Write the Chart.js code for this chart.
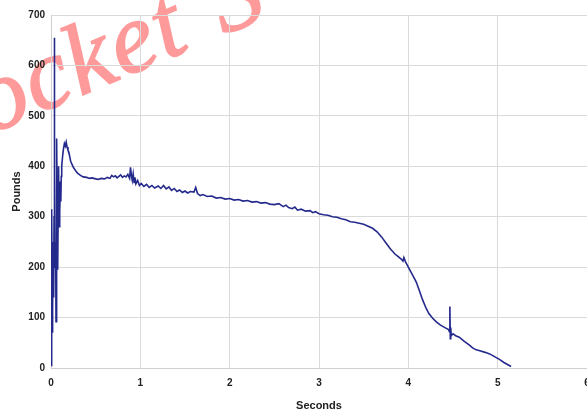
<!DOCTYPE html>
<html>
<head>
<meta charset="utf-8">
<script src="https://cdn.jsdelivr.net/npm/chart.js@4.4.1/dist/chart.umd.min.js"></script>
<style>
  html, body { margin: 0; padding: 0; background: #fff; overflow: hidden; }
  #wrap { position: relative; width: 640px; height: 411px; }
  #wm {
    position: absolute; left: -68px; top: 76px; z-index: 0;
    font: italic 100px "Liberation Serif", serif; line-height: 1;
    color: #ff9a9a; -webkit-text-stroke: 1.6px #ff9a9a;
    white-space: nowrap; word-spacing: 6px; letter-spacing: 2px;
    transform-origin: 0 84px; transform: rotate(-23deg);
    pointer-events: none;
  }
  #grafico { position: relative; z-index: 1; }
</style>
</head>
<body>
<div id="wrap">
  <div id="wm">Rocket S</div>
  <canvas id="grafico" width="640" height="411"></canvas>
</div>
<script>
// Datos (segundos / libras)
const segundos = [
  0, 0.005, 0.01, 0.013, 0.016, 0.02, 0.025, 0.03, 0.034, 0.037, 0.041, 0.046, 0.052, 0.056, 0.06,
  0.066, 0.07, 0.075, 0.08, 0.085, 0.09, 0.095, 0.1, 0.105, 0.11, 0.115, 0.12, 0.13, 0.14, 0.15,
  0.16, 0.17, 0.18, 0.19, 0.2, 0.22, 0.25, 0.28, 0.3, 0.33, 0.36, 0.4, 0.43, 0.46, 0.5, 0.53, 0.56,
  0.6, 0.63, 0.66, 0.68, 0.7, 0.72, 0.74, 0.76, 0.78, 0.8, 0.82, 0.84, 0.86, 0.88, 0.89, 0.9, 0.91,
  0.92, 0.93, 0.94, 0.95, 0.97, 0.99, 1.01, 1.04, 1.07, 1.1, 1.13, 1.16, 1.2, 1.23, 1.26, 1.29, 1.32,
  1.35, 1.38, 1.41, 1.44, 1.47, 1.5, 1.53, 1.56, 1.6, 1.62, 1.64, 1.67, 1.7, 1.75, 1.8, 1.85, 1.9,
  1.95, 2.0, 2.05, 2.1, 2.15, 2.2, 2.25, 2.3, 2.35, 2.4, 2.45, 2.5, 2.55, 2.6, 2.63, 2.66, 2.7, 2.73,
  2.76, 2.8, 2.85, 2.9, 2.93, 2.96, 3.0, 3.05, 3.1, 3.15, 3.2, 3.25, 3.3, 3.35, 3.4, 3.45, 3.5, 3.55,
  3.6, 3.65, 3.7, 3.75, 3.8, 3.85, 3.88, 3.92, 3.94, 3.95, 3.97, 4.0, 4.03, 4.06, 4.09, 4.12, 4.16,
  4.2, 4.23, 4.27, 4.31, 4.36, 4.42, 4.45, 4.46, 4.465, 4.47, 4.475, 4.48, 4.5, 4.53, 4.57, 4.62,
  4.68, 4.72, 4.76, 4.8, 4.86, 4.91, 4.96, 5.02, 5.07, 5.13, 5.15
];
const libras = [
  5, 150, 315, 160, 70, 120, 250, 140, 300, 655, 380, 200, 250, 92, 300,
  455, 320, 195, 300, 400, 280, 370, 310, 360, 330, 380, 400, 420, 435, 445,
  440, 448, 438, 432, 428, 410, 398, 390, 386, 382, 379, 378, 376, 377, 375, 374, 376,
  375, 378, 376, 382, 379, 381, 377, 380, 383, 378, 381, 379, 384, 376, 398, 382, 372,
  385, 368, 378, 365, 372, 362, 366, 360, 364, 358, 362, 357, 361, 356, 362, 355, 359,
  352, 356, 350, 353, 348, 351, 347, 350, 349, 358, 346, 342, 344, 340, 341, 337, 338,
  335, 336, 333, 334, 331, 332, 329, 330, 327, 328, 325, 324, 326, 320, 323, 318, 316, 319,
  313, 315, 311, 312, 308, 310, 306, 304, 303, 300, 299, 296, 294, 290, 289, 287, 285, 281,
  277, 270, 260, 248, 236, 226, 222, 216, 212, 219, 210, 200, 190, 180, 170, 155, 135,
  118, 108, 99, 92, 85, 79, 76, 72, 122, 58, 80, 64, 68, 64, 61, 54,
  46, 40, 36, 34, 31, 28, 23, 17, 11, 5, 3
];
const ticksX = [0, 1, 2, 3, 4, 5, 6];
const ticksY = [0, 100, 200, 300, 400, 500, 600, 700];

const puntos = segundos.map((s, i) => ({ x: s, y: libras[i] }));
const fuenteTick = { family: 'Liberation Sans', size: 10, weight: 'bold' };

new Chart(document.getElementById('grafico').getContext('2d'), {
  type: 'line',
  data: {
    datasets: [{
      data: puntos,
      borderColor: '#24298c',
      borderWidth: 1.6,
      pointRadius: 0,
      tension: 0,
      fill: false
    }]
  },
  options: {
    responsive: false,
    animation: false,
    layout: { padding: { top: 15, right: 53, left: 0, bottom: -2 } },
    plugins: { legend: { display: false }, tooltip: { enabled: false } },
    scales: {
      x: {
        type: 'linear',
        min: 0, max: 6,
        afterBuildTicks: s => { s.ticks = ticksX.map(v => ({ value: v })); },
        afterFit: s => { s.height = 45; },
        grid: { color: '#dadada', drawTicks: false },
        border: { color: '#cfcfcf' },
        ticks: { padding: 9, color: '#222', font: fuenteTick, maxRotation: 0 },
        title: { display: true, text: 'Seconds', color: '#222', padding: { top: 4, bottom: 0 },
                 font: { family: 'Liberation Sans', size: 11, weight: 'bold' } }
      },
      y: {
        min: 0, max: 700,
        afterBuildTicks: s => { s.ticks = ticksY.map(v => ({ value: v })); },
        afterFit: s => { s.width = 51; },
        grid: { color: '#dadada', drawTicks: false },
        border: { color: '#cfcfcf' },
        ticks: { padding: 6, color: '#222', font: fuenteTick },
        title: { display: true, text: 'Pounds', color: '#222', padding: { top: 10, bottom: 0 },
                 font: { family: 'Liberation Sans', size: 11, weight: 'bold' } }
      }
    }
  }
});
</script>
</body>
</html>
